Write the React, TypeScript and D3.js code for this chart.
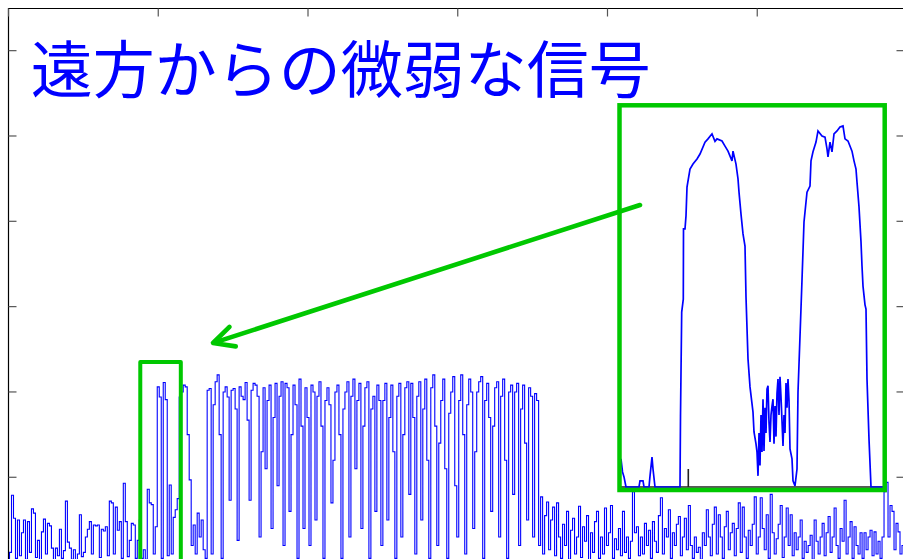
import React from 'react';
import * as d3 from 'd3';

// ---------- data ----------
const titleText = '遠方からの微弱な信号';
const xTicks = [0, 75, 150, 225, 300, 375];
const yTicks = [1, 2, 3, 4, 5, 6];

// main signal, one sample per step
const noiseLeft = [
  0.05, 0.12, 0.79, 0.52, 0.05, 0.5, 0.08, 0.35, 0.5, 0.04,
  0.48, 0.12, 0.63, 0.58, 0.06, 0.26, 0.03, 0.36, 0.51, 0.1,
  0.46, 0.43, 0.17, 0.02, 0.17, 0.08, 0.39, 0.05, 0.14, 0.72,
  0.24, 0.17, 0.04, 0.15, 0.03, 0.1, 0.56, 0.07, 0.12, 0.3,
  0.39, 0.48, 0.1, 0.44, 0.43, 0.44, 0.06, 0.39, 0.37, 0.42,
  0.08, 0.72, 0.7, 0.1, 0.65, 0.38, 0.48, 0.05, 0.93, 0.48,
  0.07, 0.26, 0.46, 0.44, 0.05, 0.26,
];
const burst = [
  0.5, 0.05, 0.15, 0.04, 0.86, 0.7, 0.68, 0.1, 0.42, 2.06,
  1.94, 0.05, 2.11, 1.91, 0.08, 0.91, 0.1, 0.53, 0.62, 0.75,
  1.94, 2.0, 2.08, 2.06, 1.5, 0.97, 0.2, 0.44, 0.1, 0.58,
  0.3, 0.5, 0.15, 0.05,
];
const pulseTrain = [
  2.02, 2.04, 0.1, 1.85, 2.12, 2.2, 1.5, 0.05, 2.0, 2.06,
  1.94, 0.73, 2.02, 2.04, 1.8, 0.26, 2.06, 1.95, 1.91, 2.11,
  1.67, 0.73, 2.02, 2.1, 2.08, 1.95, 0.3, 1.3, 2.05, 1.1,
  1.9, 2.08, 0.4, 1.7, 2.1, 0.9, 1.95, 2.12, 0.2, 2.1,
  2.05, 0.6, 1.5, 2.08, 1.85, 0.05, 2.15, 1.6, 0.4, 2.05,
  1.7, 0.2, 2.08, 2.0, 0.5, 1.95, 2.12, 1.6, 0.05, 1.9,
  2.05, 1.85, 0.7, 1.2, 2.0, 2.08, 1.5, 0.05, 1.8, 2.0,
  2.12, 0.3, 1.95, 2.15, 1.1, 1.9, 2.1, 0.4, 1.6, 2.05,
  2.12, 0.05, 1.8, 1.95, 0.6, 2.08, 1.9, 0.2, 1.9, 2.1,
  0.5, 1.7, 2.08, 1.3, 0.05, 1.95, 2.1, 0.3, 1.5, 2.05,
  2.12, 0.8, 2.1, 1.7, 0.1, 1.95, 2.12, 0.5, 1.8, 2.15,
  1.2, 0.05, 2.05, 2.2, 1.6, 0.2, 1.4, 1.9, 2.15, 1.1,
  0.05, 1.75, 2.0, 2.18, 0.9, 0.3, 1.9, 2.2, 1.5, 0.1,
  1.85, 2.15, 2.0, 0.4, 1.3, 2.0, 2.12, 2.18, 0.05, 1.9,
  2.1, 1.7, 0.6, 1.6, 2.05, 2.12, 0.3, 1.95, 2.15, 1.2,
  0.05, 2.0, 2.08, 0.8, 2.0, 2.1, 0.2, 1.8, 2.08, 1.4,
  0.5, 2.05, 1.95, 0.3, 1.98, 1.9, 0.2,
];
const noiseRight = [
  0.77, 0.1, 0.55, 0.71, 0.15, 0.5, 0.65, 0.08, 0.7, 0.3,
  0.05, 0.45, 0.2, 0.6, 0.04, 0.38, 0.52, 0.1, 0.3, 0.66,
  0.06, 0.42, 0.25, 0.55, 0.03, 0.35, 0.12, 0.48, 0.6, 0.05,
  0.3, 0.1, 0.64, 0.2, 0.35, 0.67, 0.05, 0.28, 0.15, 0.4,
  0.08, 0.6, 0.12, 0.3, 0.05, 0.25, 0.83, 0.35, 0.42, 0.08,
  0.3, 0.1, 0.46, 0.2, 0.38, 0.05, 0.48, 0.25, 0.12, 0.55,
  0.76, 0.1, 0.4, 0.3, 0.62, 0.05, 0.35, 0.2, 0.45, 0.54,
  0.08, 0.3, 0.52, 0.15, 0.67, 0.2, 0.05, 0.3, 0.12, 0.18,
  0.04, 0.35, 0.2, 0.62, 0.3, 0.08, 0.45, 0.65, 0.1, 0.56,
  0.3, 0.05, 0.42, 0.6, 0.15, 0.35, 0.46, 0.08, 0.4, 0.7,
  0.12, 0.65, 0.3, 0.05, 0.38, 0.2, 0.45, 0.77, 0.1, 0.3,
  0.76, 0.4, 0.15, 0.56, 0.05, 0.8, 0.35, 0.1, 0.28, 0.45,
  0.67, 0.06, 0.3, 0.64, 0.2, 0.56, 0.08, 0.35, 0.15, 0.3,
  0.5, 0.05, 0.25, 0.12, 0.2, 0.32, 0.04, 0.5, 0.25, 0.1,
  0.3, 0.46, 0.08, 0.35, 0.54, 0.12, 0.3, 0.64, 0.2, 0.05,
  0.4, 0.25, 0.73, 0.1, 0.3, 0.48, 0.05, 0.42, 0.2, 0.1,
  0.35, 0.05, 0.35, 0.15, 0.3, 0.38, 0.08, 0.36, 0.1, 0.25,
  0.05, 0.3, 0.83, 0.94, 0.3, 0.67, 0.6, 0.15, 0.46, 0.36,
  0.1, 0.2,
];

// zoomed inset: time offsets and normalised values
const insetT = [
  1, 2.5, 4, 6, 19, 20, 23, 24, 29, 30, 32, 33, 35, 60, 60.5, 61.7, 63.3, 63.5, 65, 66,
  67, 70, 73, 77, 80, 85, 88, 92, 95, 97, 102, 105, 108, 112, 113, 116, 118, 119, 121, 123,
  125, 126, 128, 130, 133, 134, 136, 137, 138, 139, 140, 141, 142, 143, 144, 145, 146, 147, 148, 149,
  150, 151, 152, 153, 154, 155, 156, 157, 158, 159, 160, 161, 162, 163, 164, 165, 166, 167, 168, 169,
  170, 172, 173, 175, 177, 178, 180, 182, 184, 187, 190, 191, 193, 196, 198, 202, 205, 207, 208, 210,
  212, 214, 217, 220, 223, 225, 228, 232, 234, 236, 237, 239, 241, 242, 243, 245, 246, 247, 249, 251, 264,
];
const insetV = [
  0.078, 0.042, 0.028, 0, 0, 0.017, 0.017, 0, 0, 0.03, 0.083, 0.05, 0, 0, 0.197, 0.486, 0.522, 0.717, 0.717, 0.753,
  0.833, 0.883, 0.897, 0.911, 0.925, 0.958, 0.967, 0.981, 0.96, 0.967, 0.961, 0.947, 0.933, 0.906, 0.933, 0.897, 0.856, 0.819, 0.758, 0.703,
  0.669, 0.528, 0.356, 0.278, 0.208, 0.153, 0.12, 0.097, 0.031, 0.15, 0.06, 0.2, 0.097, 0.244, 0.1, 0.22, 0.15, 0.272, 0.281, 0.18,
  0.125, 0.2, 0.225, 0.244, 0.12, 0.225, 0.14, 0.26, 0.3, 0.2, 0.306, 0.25, 0.183, 0.114, 0.2, 0.15, 0.289, 0.22, 0.3, 0.24,
  0.106, 0.078, 0.017, 0.003, 0.05, 0.264, 0.419, 0.575, 0.736, 0.819, 0.836, 0.906, 0.931, 0.958, 0.989, 0.975, 0.972, 0.939, 0.917, 0.958,
  0.931, 0.981, 0.989, 1.0, 1.003, 0.967, 0.961, 0.933, 0.906, 0.883, 0.847, 0.778, 0.681, 0.614, 0.558, 0.506, 0.494, 0.3, 0.133, 0, 0,
];
const insetMarkT = 68.3;
const insetMarkV = 0.05;

// ---------- layout ----------
const W = 903;
const H = 559;
const GREEN = '#00c800';
const BLUE = '#0000ff';

export default function App() {
  const x = d3.scaleLinear().domain([0, 448.75]).range([8.5, 904.5]);
  const y = d3.scaleLinear().domain([0, 6.5]).range([562.6, 8]);
  const signal = [...noiseLeft, ...burst, ...pulseTrain, ...noiseRight];
  const line = d3
    .line<number>()
    .x((_, i) => x(i))
    .y((d) => y(d))
    .curve(d3.curveStep);

  // inset geometry
  const ib = { x: 619.5, y: 105.3, w: 265.2, h: 384.7 };
  const ix = d3.scaleLinear().domain([0, 265]).range([620, 885]);
  const iy = d3.scaleLinear().domain([0, 1]).range([487, 127]);
  const insetLine = d3
    .line<number>()
    .x((_, i) => ix(insetT[i]))
    .y((d) => iy(d));

  // callout box in data coordinates
  const boxX0 = x(66);
  const boxX1 = x(86.3);
  const boxTop = y(2.35);

  // arrow
  const tail: [number, number] = [640, 205];
  const tip: [number, number] = [213, 343];
  const ang = Math.atan2(tail[1] - tip[1], tail[0] - tip[0]);
  const armLen = 23;
  const armA = ang - 0.46;
  const armB = ang + 0.46;
  const arm1: [number, number] = [tip[0] + armLen * Math.cos(armA), tip[1] + armLen * Math.sin(armA)];
  const arm2: [number, number] = [tip[0] + armLen * Math.cos(armB), tip[1] + armLen * Math.sin(armB)];

  return (
    <svg
      width={W}
      height={H}
      viewBox={`0 0 ${W} ${H}`}
      style={{ position: 'absolute', left: 0, top: 0, display: 'block', background: '#fff' }}
    >
      <defs>
        <clipPath id="plotClip">
          <rect x={8.5} y={8} width={896} height={560} />
        </clipPath>
        <clipPath id="insetClip">
          <rect x={ib.x} y={ib.y} width={ib.w} height={ib.h} />
        </clipPath>
      </defs>
      <rect x={0} y={0} width={W} height={H} fill="#fff" />

      {/* main signal */}
      <path
        d={line(signal) || ''}
        fill="none"
        stroke={BLUE}
        strokeWidth={1.1}
        clipPath="url(#plotClip)"
      />

      {/* frame */}
      <path d="M8.5,562 V8.5 H904.5 V562" fill="none" stroke="#000" strokeWidth={1.2} />
      {xTicks.map((t) => (
        <line key={'xt' + t} x1={x(t)} x2={x(t)} y1={8.5} y2={16.5} stroke="#555" strokeWidth={1.2} />
      ))}
      {yTicks.map((t) => (
        <g key={'yt' + t}>
          <line x1={8.5} x2={16.5} y1={y(t)} y2={y(t)} stroke="#555" strokeWidth={1.2} />
          <line x1={896.5} x2={904.5} y1={y(t)} y2={y(t)} stroke="#555" strokeWidth={1.2} />
        </g>
      ))}

      {/* title */}
      <text
        x={30.8}
        y={93}
        fill={BLUE}
        fontSize={62}
        fontFamily="'Noto Sans CJK JP', 'Noto Sans CJK SC', sans-serif"
      >
        {titleText}
      </text>

      {/* callout box around first pulses */}
      <path
        d={`M${boxX0},${H + 10} V${boxTop} H${boxX1} V${H + 10}`}
        fill="none"
        stroke={GREEN}
        strokeWidth={4}
        strokeLinejoin="round"
      />

      {/* inset */}
      <rect x={ib.x} y={ib.y} width={ib.w} height={ib.h} fill="#fff" />
      <g clipPath="url(#insetClip)">
        <line x1={ix(0)} x2={ix(265)} y1={iy(0)} y2={iy(0)} stroke="#222" strokeWidth={1.6} />
        <line
          x1={ix(insetMarkT)}
          x2={ix(insetMarkT)}
          y1={iy(0)}
          y2={iy(insetMarkV)}
          stroke="#222"
          strokeWidth={1.6}
        />
        <path d={insetLine(insetV) || ''} fill="none" stroke={BLUE} strokeWidth={1.7} />
      </g>
      <rect x={ib.x} y={ib.y} width={ib.w} height={ib.h} fill="none" stroke={GREEN} strokeWidth={4.5} />

      {/* arrow */}
      <line
        x1={tail[0]}
        y1={tail[1]}
        x2={tip[0] + 2}
        y2={tip[1] - 0.6}
        stroke={GREEN}
        strokeWidth={4.6}
        strokeLinecap="round"
      />
      <polyline
        points={`${arm1[0]},${arm1[1]} ${tip[0]},${tip[1]} ${arm2[0]},${arm2[1]}`}
        fill="none"
        stroke={GREEN}
        strokeWidth={4.6}
        strokeLinecap="round"
        strokeLinejoin="round"
      />
    </svg>
  );
}
